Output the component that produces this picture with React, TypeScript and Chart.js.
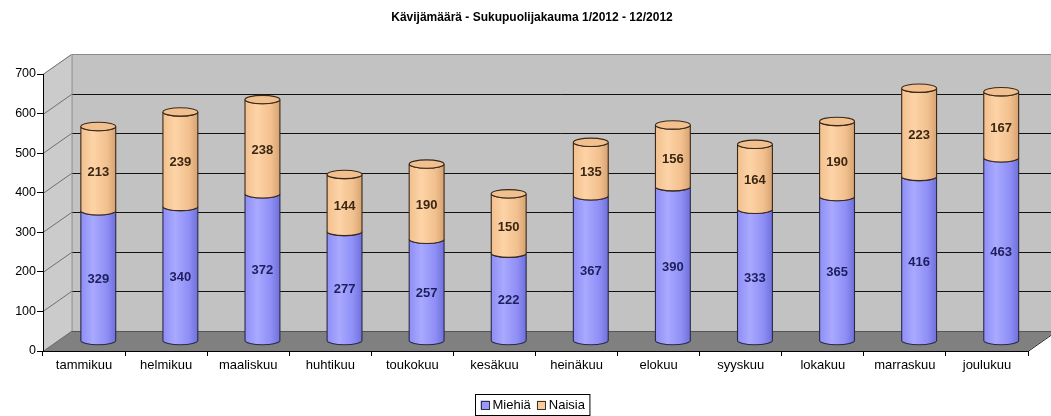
import React, { useEffect, useRef } from "react";
import { Chart, registerables } from "chart.js";

Chart.register(...registerables);

const TITLE = "Kävijämäärä - Sukupuolijakauma 1/2012 - 12/2012";
const months = [
  "tammikuu", "helmikuu", "maaliskuu", "huhtikuu", "toukokuu", "kesäkuu",
  "heinäkuu", "elokuu", "syyskuu", "lokakuu", "marraskuu", "joulukuu",
];
const miehia = [329, 340, 372, 277, 257, 222, 367, 390, 333, 365, 416, 463];
const naisia = [213, 239, 238, 144, 190, 150, 135, 156, 164, 190, 223, 167];
const seriesNames = ["Miehiä", "Naisia"];
const yTicks = [0, 100, 200, 300, 400, 500, 600, 700];

const FONT = "'Liberation Sans', Arial, sans-serif";
const DX = 28.5;
const DY = -20;

const palettes = [
  { base: "#9999ff", dark: "#7070da", light: "#a9a9ff", mid: "#8e8ef6", label: "#1e1e5e", line: "#2a2a48" },
  { base: "#ffcc99", dark: "#d6a272", light: "#fdd3a6", mid: "#f2c08e", label: "#3a2612", line: "#3a2818" },
];

const threeD = {
  id: "threeD",
  beforeDraw(chart: any) {
    const { ctx, chartArea } = chart;
    const { left: L, right: R, top: T, bottom: B } = chartArea;
    const y = chart.scales.y;
    ctx.save();
    ctx.fillStyle = "#fff";
    ctx.fillRect(0, 0, chart.width, chart.height);
    // back wall
    ctx.fillStyle = "#c2c2c2";
    ctx.fillRect(L + DX, T + DY, R - L, B - T);
    // side wall
    ctx.fillStyle = "#cbcbcb";
    ctx.beginPath();
    ctx.moveTo(L, B);
    ctx.lineTo(L + DX, B + DY);
    ctx.lineTo(L + DX, T + DY);
    ctx.lineTo(L, T);
    ctx.closePath();
    ctx.fill();
    // floor
    ctx.fillStyle = "#808080";
    ctx.beginPath();
    ctx.moveTo(L, B);
    ctx.lineTo(R, B);
    ctx.lineTo(R + DX, B + DY);
    ctx.lineTo(L + DX, B + DY);
    ctx.closePath();
    ctx.fill();
    ctx.lineWidth = 1;
    // grid lines
    yTicks.forEach((v) => {
      const py = Math.round(y.getPixelForValue(v)) + 0.5;
      if (v > 0 && v < 700) {
        ctx.strokeStyle = "#111";
        ctx.beginPath();
        ctx.moveTo(L + DX, py + DY);
        ctx.lineTo(R + DX, py + DY);
        ctx.stroke();
      }
      ctx.strokeStyle = "#707070";
      ctx.beginPath();
      ctx.moveTo(L, py);
      ctx.lineTo(L + DX, py + DY);
      ctx.stroke();
    });
    // edges
    ctx.strokeStyle = "#8a8a8a";
    ctx.beginPath();
    ctx.moveTo(L + DX + 0.5, B + DY);
    ctx.lineTo(L + DX + 0.5, T + DY + 0.5);
    ctx.lineTo(R + DX, T + DY + 0.5);
    ctx.stroke();
    ctx.strokeStyle = "#555";
    ctx.beginPath();
    ctx.moveTo(L + DX, B + DY + 0.5);
    ctx.lineTo(R + DX, B + DY + 0.5);
    ctx.stroke();
    ctx.strokeStyle = "#222";
    ctx.beginPath();
    ctx.moveTo(R, B + 0.5);
    ctx.lineTo(R + DX, B + DY + 0.5);
    ctx.stroke();
    // title
    ctx.fillStyle = "#000";
    ctx.font = "bold 12px " + FONT;
    ctx.textAlign = "center";
    ctx.textBaseline = "middle";
    ctx.fillText(TITLE, 532, 18);
    ctx.restore();
  },
  afterDatasetsDraw(chart: any) {
    const { ctx } = chart;
    const n = chart.data.labels.length;
    const ry = 4.2;
    for (let i = 0; i < n; i++) {
      const nd = chart.data.datasets.length;
      for (let d = 0; d < nd; d++) {
        const el = chart.getDatasetMeta(d).data[i];
        const p = palettes[d];
        const cx = el.x + DX / 2;
        const rx = el.width / 2;
        const yb = el.base + DY / 2;
        const yt = el.y + DY / 2;
        const g = ctx.createLinearGradient(cx - rx, 0, cx + rx, 0);
        g.addColorStop(0, p.mid);
        g.addColorStop(0.35, p.light);
        g.addColorStop(0.75, p.mid);
        g.addColorStop(1, p.dark);
        ctx.save();
        ctx.beginPath();
        ctx.moveTo(cx - rx, yt);
        ctx.lineTo(cx - rx, yb);
        ctx.ellipse(cx, yb, rx, ry, 0, Math.PI, 0, true);
        ctx.lineTo(cx + rx, yt);
        ctx.ellipse(cx, yt, rx, ry, 0, 0, Math.PI, false);
        ctx.closePath();
        ctx.fillStyle = g;
        ctx.fill();
        ctx.strokeStyle = p.line;
        ctx.lineWidth = 1.1;
        ctx.stroke();
        if (d === nd - 1) {
          ctx.beginPath();
          ctx.ellipse(cx, yt, rx, ry, 0, 0, Math.PI * 2);
          ctx.fillStyle = p.mid;
          ctx.fill();
          ctx.stroke();
        }
        ctx.restore();
      }
    }
    // labels
    for (let i = 0; i < n; i++) {
      chart.data.datasets.forEach((ds: any, d: number) => {
        const el = chart.getDatasetMeta(d).data[i];
        const cx = el.x + DX / 2;
        const cy = (el.base + el.y) / 2 + DY / 2 + 3.5;
        ctx.save();
        ctx.font = "bold 13px " + FONT;
        ctx.fillStyle = palettes[d].label;
        ctx.textAlign = "center";
        ctx.textBaseline = "middle";
        ctx.fillText(String(ds.data[i]), cx, cy);
        ctx.restore();
      });
    }
  },
  afterDraw(chart: any) {
    const { ctx } = chart;
    ctx.save();
    ctx.font = "13px " + FONT;
    ctx.textBaseline = "middle";
    const sw = 9;
    const gap = 3;
    const itemGap = 6;
    const widths = seriesNames.map((s) => ctx.measureText(s).width);
    const inner = widths.reduce((a, w) => a + sw + gap + w, 0) + itemGap;
    const padX = 5;
    const boxW = inner + padX * 2;
    const boxH = 21;
    const cxm = 532.5;
    const bx = Math.round(cxm - boxW / 2) + 0.5;
    const by = 394.5;
    ctx.fillStyle = "#fff";
    ctx.fillRect(bx, by, boxW, boxH);
    ctx.strokeStyle = "#000";
    ctx.lineWidth = 1;
    ctx.strokeRect(bx, by, boxW, boxH);
    let x = bx + padX;
    const my = by + boxH / 2;
    seriesNames.forEach((s, k) => {
      ctx.fillStyle = palettes[k].base;
      ctx.fillRect(x, my - sw / 2, sw, sw);
      ctx.strokeStyle = "#333";
      ctx.strokeRect(Math.round(x) + 0.5, Math.round(my - sw / 2) + 0.5, sw - 1, sw - 1);
      x += sw + gap;
      ctx.fillStyle = "#000";
      ctx.fillText(s, x, my + 0.5);
      x += widths[k] + itemGap;
    });
    ctx.restore();
  },
};

export default function App() {
  const ref = useRef<HTMLCanvasElement | null>(null);
  useEffect(() => {
    document.body.style.margin = "0";
    const canvas = ref.current!;
    const chart = new Chart(canvas, {
      type: "bar",
      data: {
        labels: months,
        datasets: [
          { label: seriesNames[0], data: miehia, backgroundColor: "rgba(0,0,0,0)", borderWidth: 0 },
          { label: seriesNames[1], data: naisia, backgroundColor: "rgba(0,0,0,0)", borderWidth: 0 },
        ],
      },
      options: {
        responsive: false,
        animation: false,
        devicePixelRatio: 1,
        layout: { padding: { top: 74, left: 0, right: 23, bottom: 0 } },
        datasets: { bar: { categoryPercentage: 1, barPercentage: 0.425 } },
        plugins: {
          legend: { display: false },
          title: { display: false },
          tooltip: { enabled: false },
        },
        scales: {
          x: {
            stacked: true,
            offset: true,
            grid: { offset: true, drawOnChartArea: false, drawTicks: true, tickLength: 5, color: "#000" },
            border: { display: true, color: "#000", width: 1 },
            ticks: {
              color: "#000",
              font: { family: FONT, size: 13 },
              padding: 2,
              maxRotation: 0,
              autoSkip: false,
            },
            afterFit: (s: any) => { s.height = 65; },
          },
          y: {
            stacked: true,
            min: 0,
            max: 700,
            grid: { drawOnChartArea: false, drawTicks: true, tickLength: 6, color: "#000" },
            border: { display: true, color: "#000", width: 1 },
            ticks: {
              stepSize: 100,
              color: "#000",
              font: { family: FONT, size: 12.5 },
              padding: 1,
            },
            afterFit: (s: any) => { s.width = 43; },
          },
        },
      },
      plugins: [threeD],
    });
    return () => chart.destroy();
  }, []);
  return (
    <div style={{ width: 1051, height: 416 }}>
      <canvas ref={ref} width={1051} height={416} />
    </div>
  );
}
